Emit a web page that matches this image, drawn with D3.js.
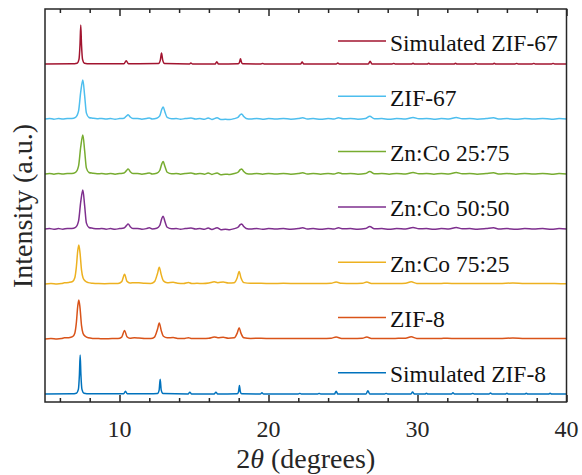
<!DOCTYPE html>
<html>
<head>
<meta charset="utf-8">
<script src="https://cdn.jsdelivr.net/npm/d3@7"></script>
<style>
  html, body { margin: 0; padding: 0; background: #fff; }
  svg { display: block; }
</style>
</head>
<body>
<svg id="chart" width="582" height="475"></svg>
<script>
// ---------------- DATA (2θ in degrees, intensity normalised to main peak) ----------------
const seriesNames = ["Simulated ZIF-8", "ZIF-8", "Zn:Co 75:25", "Zn:Co 50:50", "Zn:Co 25:75", "ZIF-67", "Simulated ZIF-67"];
const seriesColors = ["#0072BD", "#D95319", "#EDB120", "#7E2F8E", "#77AC30", "#4DBEEE", "#A2142F"];
const xTicksMajor = [10, 20, 30, 40];
const xTicksMinor = [6, 8, 12, 14, 16, 18, 22, 24, 26, 28, 32, 34, 36, 38];

const simZIF8 = [[5,0],[6.8,0.005],[7.1,0.02],[7.24,0.12],[7.31,0.5],[7.36,1],[7.41,0.5],[7.48,0.12],[7.62,0.02],[8.0,0.005],
  [10.28,0.005],[10.4,0.07],[10.52,0.005],
  [12.55,0.01],[12.66,0.1],[12.73,0.38],[12.8,0.1],[12.92,0.01],
  [14.6,0],[14.72,0.045],[14.84,0],[16.35,0],[16.47,0.045],[16.59,0],
  [17.9,0.005],[17.99,0.06],[18.05,0.22],[18.11,0.06],[18.2,0.005],
  [19.45,0],[19.56,0.03],[19.67,0],[22.0,0],[22.1,0.015],[22.2,0],[23.3,0],[23.4,0.015],[23.5,0],
  [24.43,0],[24.54,0.07],[24.65,0],[26.55,0],[26.67,0.085],[26.79,0],[27.8,0],[27.9,0.015],[28.0,0],
  [29.55,0],[29.67,0.05],[29.79,0],[30.5,0],[30.6,0.02],[30.7,0],[32.28,0],[32.38,0.035],[32.48,0],
  [33.6,0],[33.7,0.015],[33.8,0],[34.8,0],[34.9,0.025],[35.0,0],[35.9,0],[36.0,0.02],[36.1,0],
  [37.2,0],[37.3,0.02],[37.4,0],[38.8,0],[38.9,0.02],[39.0,0],[40,0]];

const zif8 = [[5,0.0],[5.4,0.01],[5.8,0.0],[6.1,0.01],[6.3,0.03],[6.6,0.035],[6.85,0.06],[7.0,0.15],[7.1,0.4],[7.2,0.85],[7.27,1],[7.35,0.8],[7.45,0.35],[7.55,0.15],[7.7,0.07],[7.9,0.03],[8.2,0.015],[8.6,0.01],[9.0,0.005],[9.5,0.01],[9.9,0.01],
  [10.15,0.05],[10.34,0.22],[10.5,0.06],[10.7,0.02],[11.0,0.03],[11.3,0.025],[11.7,0.015],[12.1,0.01],
  [12.35,0.05],[12.55,0.25],[12.67,0.41],[12.8,0.22],[12.95,0.07],[13.2,0.03],[13.6,0.04],[13.9,0.015],[14.3,0.01],[14.63,0.035],[14.85,0.01],
  [15.2,0.015],[15.6,0.01],[16.0,0.02],[16.36,0.05],[16.6,0.035],[16.96,0.045],[17.3,0.02],[17.7,0.03],[17.9,0.15],[18.03,0.29],[18.15,0.15],[18.35,0.03],
  [18.8,0.015],[19.5,0.02],[20.2,0.01],[21,0.015],[22,0.01],[22.8,0.015],[23.6,0.01],[24.2,0.02],[24.54,0.05],[24.9,0.015],[25.6,0.01],[26.3,0.02],[26.6,0.05],[26.9,0.015],
  [27.6,0.01],[28.5,0.015],[29.2,0.02],[29.58,0.055],[29.95,0.015],[30.8,0.01],[31.6,0.015],[32.0,0.02],[32.6,0.01],[33.5,0.015],[34.5,0.01],[35.5,0.01],[36.4,0.025],[37.2,0.01],[38.2,0.012],[39.2,0.01],[40,0.01]];

const znco7525 = [[5,0.0],[5.4,0.012],[5.8,0.002],[6.1,0.012],[6.3,0.03],[6.6,0.04],[6.85,0.065],[7.0,0.16],[7.1,0.42],[7.2,0.86],[7.27,1],[7.35,0.8],[7.45,0.36],[7.55,0.16],[7.7,0.075],[7.9,0.035],[8.2,0.018],[8.6,0.01],[9.0,0.008],[9.5,0.012],[9.9,0.015],
  [10.15,0.06],[10.34,0.25],[10.5,0.07],[10.7,0.025],[11.0,0.035],[11.3,0.03],[11.7,0.018],[12.1,0.015],
  [12.35,0.06],[12.55,0.27],[12.67,0.43],[12.8,0.24],[12.95,0.08],[13.2,0.035],[13.6,0.045],[13.9,0.02],[14.3,0.015],[14.63,0.04],[14.85,0.012],
  [15.2,0.018],[15.6,0.012],[16.0,0.025],[16.36,0.055],[16.6,0.035],[16.96,0.05],[17.3,0.025],[17.7,0.035],[17.9,0.16],[18.03,0.32],[18.15,0.16],[18.35,0.035],
  [18.8,0.018],[19.5,0.02],[20.2,0.012],[21,0.018],[22,0.012],[22.8,0.015],[23.6,0.012],[24.2,0.02],[24.54,0.05],[24.9,0.018],[25.6,0.012],[26.3,0.02],[26.6,0.05],[26.9,0.015],
  [27.6,0.012],[28.5,0.015],[29.2,0.022],[29.58,0.055],[29.95,0.015],[30.8,0.012],[31.6,0.015],[32.0,0.02],[32.6,0.012],[33.5,0.015],[34.5,0.01],[35.5,0.012],[36.4,0.025],[37.2,0.01],[38.2,0.012],[39.2,0.01],[40,0.008]];

const znco5050 = [[5,0.0],[5.3,0.012],[5.6,-0.006],[5.9,0.01],[6.2,-0.004],[6.5,0.014],[6.8,0.012],[7.05,0.04],[7.25,0.2],[7.4,0.7],[7.54,1],[7.66,0.6],[7.78,0.15],[7.95,0.04],[8.2,0.02],[8.5,0.004],[8.8,0.014],[9.1,-0.004],[9.4,0.01],[9.7,-0.006],[10.0,0.01],
  [10.3,0.025],[10.45,0.08],[10.58,0.13],[10.72,0.06],[10.9,0.012],[11.2,0.014],[11.5,-0.006],[11.8,0.01],[12.0,0.03],[12.2,0.0],[12.5,0.02],
  [12.7,0.09],[12.84,0.27],[12.93,0.33],[13.05,0.19],[13.2,0.045],[13.5,0.004],[13.8,0.012],[14.1,-0.006],[14.4,0.01],[14.8,0.025],[15.1,-0.002],[15.4,0.01],[15.7,-0.006],
  [15.95,0.025],[16.2,-0.012],[16.55,0.03],[16.8,-0.016],[17.1,-0.006],[17.4,-0.016],[17.7,0.01],[17.95,0.045],[18.1,0.11],[18.2,0.13],[18.32,0.07],[18.5,0.015],
  [18.8,-0.002],[19.2,0.012],[19.6,-0.006],[20.0,0.01],[20.5,-0.002],[21.0,0.012],[21.5,-0.006],[22.0,0.01],[22.3,0.03],[22.6,0.0],[23.0,0.01],[23.5,-0.006],[24.0,0.01],[24.4,0.0],[24.7,0.03],
  [25.0,0.004],[25.5,0.012],[26.0,-0.006],[26.5,0.01],[26.8,0.065],[27.1,0.004],[27.6,0.01],[28.1,-0.006],[28.6,0.01],[29.2,0.0],[29.7,0.04],[30.1,0.004],[30.6,0.012],[31.1,-0.006],
  [31.6,0.01],[32.1,0.0],[32.6,0.04],[33.0,0.004],[33.5,0.012],[34.0,-0.006],[34.6,0.01],[35.1,0.03],[35.5,0.0],[36.0,0.01],[36.6,-0.006],[37.2,0.01],[37.8,0.0],[38.4,0.012],[39.0,-0.006],[39.5,0.01],[40,0.0]];

const znco2575 = [[5,0.0],[5.3,0.014],[5.6,-0.004],[5.9,0.012],[6.2,0.0],[6.5,0.012],[6.8,0.012],[7.05,0.04],[7.25,0.2],[7.4,0.7],[7.54,1],[7.66,0.6],[7.78,0.15],[7.95,0.04],[8.2,0.02],[8.5,0.006],[8.8,0.012],[9.1,0.0],[9.4,0.014],[9.7,-0.004],[10.0,0.012],
  [10.3,0.025],[10.45,0.08],[10.58,0.13],[10.72,0.06],[10.9,0.012],[11.2,0.012],[11.5,-0.004],[11.8,0.012],[12.0,0.025],[12.2,0.002],[12.5,0.02],
  [12.7,0.09],[12.84,0.26],[12.93,0.32],[13.05,0.19],[13.2,0.045],[13.5,0.006],[13.8,0.012],[14.1,-0.004],[14.4,0.012],[14.8,0.025],[15.1,0.0],[15.4,0.012],[15.7,-0.004],
  [15.95,0.025],[16.2,-0.01],[16.55,0.028],[16.8,-0.016],[17.1,-0.004],[17.4,-0.014],[17.7,0.012],[17.95,0.045],[18.1,0.11],[18.2,0.13],[18.32,0.07],[18.5,0.015],
  [18.8,0.0],[19.2,0.012],[19.6,-0.004],[20.0,0.012],[20.5,0.0],[21.0,0.014],[21.5,-0.004],[22.0,0.012],[22.3,0.03],[22.6,0.0],[23.0,0.012],[23.5,-0.004],[24.0,0.012],[24.4,0.0],[24.7,0.035],
  [25.0,0.006],[25.5,0.012],[26.0,-0.004],[26.5,0.012],[26.8,0.065],[27.1,0.006],[27.6,0.012],[28.1,-0.004],[28.6,0.012],[29.2,0.0],[29.7,0.04],[30.1,0.006],[30.6,0.012],[31.1,-0.004],
  [31.6,0.012],[32.1,0.0],[32.6,0.04],[33.0,0.006],[33.5,0.012],[34.0,-0.004],[34.6,0.012],[35.1,0.03],[35.5,0.0],[36.0,0.012],[36.6,-0.004],[37.2,0.012],[37.8,0.0],[38.4,0.012],[39.0,-0.004],[39.5,0.01],[40,0.0]];

const zif67 = [[5,0.0],[5.3,0.015],[5.6,-0.005],[5.9,0.012],[6.2,0.0],[6.5,0.015],[6.8,0.01],[7.05,0.04],[7.25,0.2],[7.4,0.7],[7.54,1],[7.66,0.6],[7.78,0.15],[7.95,0.04],[8.2,0.02],[8.5,0.005],[8.8,0.015],[9.1,0.0],[9.4,0.012],[9.7,-0.005],[10.0,0.01],
  [10.3,0.02],[10.45,0.07],[10.58,0.11],[10.72,0.05],[10.9,0.01],[11.2,0.015],[11.5,-0.005],[11.8,0.012],[12.0,0.025],[12.2,0.0],[12.5,0.02],
  [12.7,0.08],[12.84,0.25],[12.93,0.31],[13.05,0.18],[13.2,0.04],[13.5,0.005],[13.8,0.012],[14.1,-0.005],[14.4,0.01],[14.8,0.025],[15.1,0.0],[15.4,0.01],[15.7,-0.005],
  [15.95,0.025],[16.2,-0.01],[16.55,0.03],[16.8,-0.015],[17.1,-0.005],[17.4,-0.015],[17.7,0.01],[17.95,0.04],[18.1,0.11],[18.2,0.13],[18.32,0.07],[18.5,0.015],
  [18.8,0.0],[19.2,0.012],[19.6,-0.005],[20.0,0.01],[20.5,0.0],[21.0,0.012],[21.5,-0.005],[22.0,0.01],[22.3,0.03],[22.6,0.0],[23.0,0.01],[23.5,-0.005],[24.0,0.01],[24.4,0.0],[24.7,0.03],
  [25.0,0.005],[25.5,0.012],[26.0,-0.005],[26.5,0.01],[26.8,0.07],[27.1,0.005],[27.6,0.01],[28.1,-0.005],[28.6,0.01],[29.2,0.0],[29.7,0.04],[30.1,0.005],[30.6,0.012],[31.1,-0.005],
  [31.6,0.01],[32.1,0.0],[32.6,0.04],[33.0,0.005],[33.5,0.012],[34.0,-0.005],[34.6,0.01],[35.1,0.03],[35.5,0.0],[36.0,0.01],[36.6,-0.005],[37.2,0.01],[37.8,0.0],[38.4,0.012],[39.0,-0.005],[39.5,0.01],[40,0.0]];

const simZIF67 = [[5,0],[6.8,0.005],[7.15,0.02],[7.28,0.12],[7.35,0.5],[7.40,1],[7.45,0.5],[7.52,0.12],[7.65,0.02],[8.0,0.005],
  [10.3,0.005],[10.45,0.085],[10.6,0.005],
  [12.62,0.01],[12.74,0.1],[12.82,0.28],[12.9,0.1],[13.02,0.01],
  [14.7,0],[14.79,0.025],[14.9,0],[16.42,0],[16.53,0.06],[16.64,0],
  [17.97,0.005],[18.06,0.05],[18.12,0.135],[18.18,0.05],[18.27,0.005],
  [19.5,0],[19.6,0.015],[19.7,0],[22.15,0],[22.26,0.05],[22.37,0],[24.55,0],[24.65,0.025],[24.75,0],
  [26.7,0],[26.82,0.07],[26.94,0],[28.3,0],[28.4,0.015],[28.5,0],[29.6,0],[29.7,0.02],[29.8,0],
  [30.65,0],[30.75,0.02],[30.85,0],[32.45,0],[32.55,0.02],[32.65,0],[33.8,0],[33.9,0.015],[34.0,0],
  [35.05,0],[35.15,0.02],[35.25,0],[36.55,0],[36.65,0.015],[36.75,0],[37.7,0],[37.8,0.015],[37.9,0],
  [39.0,0],[39.1,0.015],[39.2,0],[40,0]];

const seriesData = [simZIF8, zif8, znco7525, znco5050, znco2575, zif67, simZIF67];
const stackOffset = 1.41;

// ---------------- LAYOUT ----------------
const FONT = "'Liberation Serif', 'Tinos', 'Noto Serif', 'Nimbus Roman', 'FreeSerif', 'DejaVu Serif', 'Times New Roman', Times, serif";
const svg = d3.select("#chart");
const plotL = 45, plotR = 566.5, plotT = 9, plotB = 402;

const x = d3.scaleLinear().domain([5, 40]).range([plotL, plotR]);
const y = d3.scaleLinear().domain([-0.205, 9.87]).range([plotB, plotT]);

svg.append("defs").append("clipPath").attr("id", "clip")
  .append("rect").attr("x", plotL).attr("y", plotT).attr("width", plotR - plotL).attr("height", plotB - plotT);

const line = d3.line()
  .x(d => x(d[0]))
  .y(d => y(d[1]))
  .curve(d3.curveMonotoneX);

const plot = svg.append("g").attr("clip-path", "url(#clip)");
seriesData.forEach((data, i) => {
  const shifted = data.map(d => [d[0], d[1] + i * stackOffset]);
  plot.append("path")
    .datum(shifted)
    .attr("fill", "none")
    .attr("stroke", seriesColors[i])
    .attr("stroke-width", 1.5)
    .attr("stroke-linejoin", "round")
    .attr("d", line);
});

// Axes (ticks inward, top and bottom)
const axisColor = "#262626";
const bottomAxis = svg.append("g").attr("transform", `translate(0,${plotB})`)
  .call(d3.axisTop(x).tickValues(xTicksMajor).tickSize(7).tickFormat(""));
const bottomMinor = svg.append("g").attr("transform", `translate(0,${plotB})`)
  .call(d3.axisTop(x).tickValues(xTicksMinor).tickSize(4).tickFormat(""));
const topAxis = svg.append("g").attr("transform", `translate(0,${plotT})`)
  .call(d3.axisBottom(x).tickValues(xTicksMajor).tickSize(7).tickFormat(""));
const topMinor = svg.append("g").attr("transform", `translate(0,${plotT})`)
  .call(d3.axisBottom(x).tickValues(xTicksMinor).tickSize(4).tickFormat(""));
[bottomAxis, bottomMinor, topAxis, topMinor].forEach(g => {
  g.select(".domain").remove();
  g.selectAll("line").attr("stroke", axisColor).attr("stroke-width", 1.5);
});

// Tick labels
svg.append("g").selectAll("text").data(xTicksMajor).join("text")
  .attr("x", d => x(d)).attr("y", 437)
  .attr("text-anchor", "middle")
  .style("font-family", FONT)
  .attr("font-size", 24)
  .attr("fill", axisColor)
  .text(d => d);

// Frame
svg.append("rect")
  .attr("x", plotL).attr("y", plotT).attr("width", plotR - plotL).attr("height", plotB - plotT)
  .attr("fill", "none").attr("stroke", axisColor).attr("stroke-width", 1.5);

// Axis titles
const xt = svg.append("text")
  .attr("x", (plotL + plotR) / 2).attr("y", 468)
  .attr("text-anchor", "middle").style("font-family", FONT).attr("font-size", 28).attr("fill", axisColor);
xt.append("tspan").text("2");
xt.append("tspan").attr("font-style", "italic").text("θ");
xt.append("tspan").text(" (degrees)");

svg.append("text")
  .attr("transform", "translate(31.5,206) rotate(-90)")
  .attr("text-anchor", "middle").style("font-family", FONT).attr("font-size", 28).attr("fill", axisColor)
  .text("Intensity (a.u.)");

// Legend
const legend = svg.append("g");
seriesNames.forEach((name, i) => {
  const ly = 41 + (6 - i) * 55.3;
  legend.append("line")
    .attr("x1", 338).attr("x2", 386).attr("y1", ly).attr("y2", ly)
    .attr("stroke", seriesColors[i]).attr("stroke-width", 1.5);
  legend.append("text")
    .attr("x", 390).attr("y", ly + 9.5)
    .style("font-family", FONT)
    .attr("font-size", 23.5).attr("fill", "#111")
    .text(name);
});
</script>
</body>
</html>
